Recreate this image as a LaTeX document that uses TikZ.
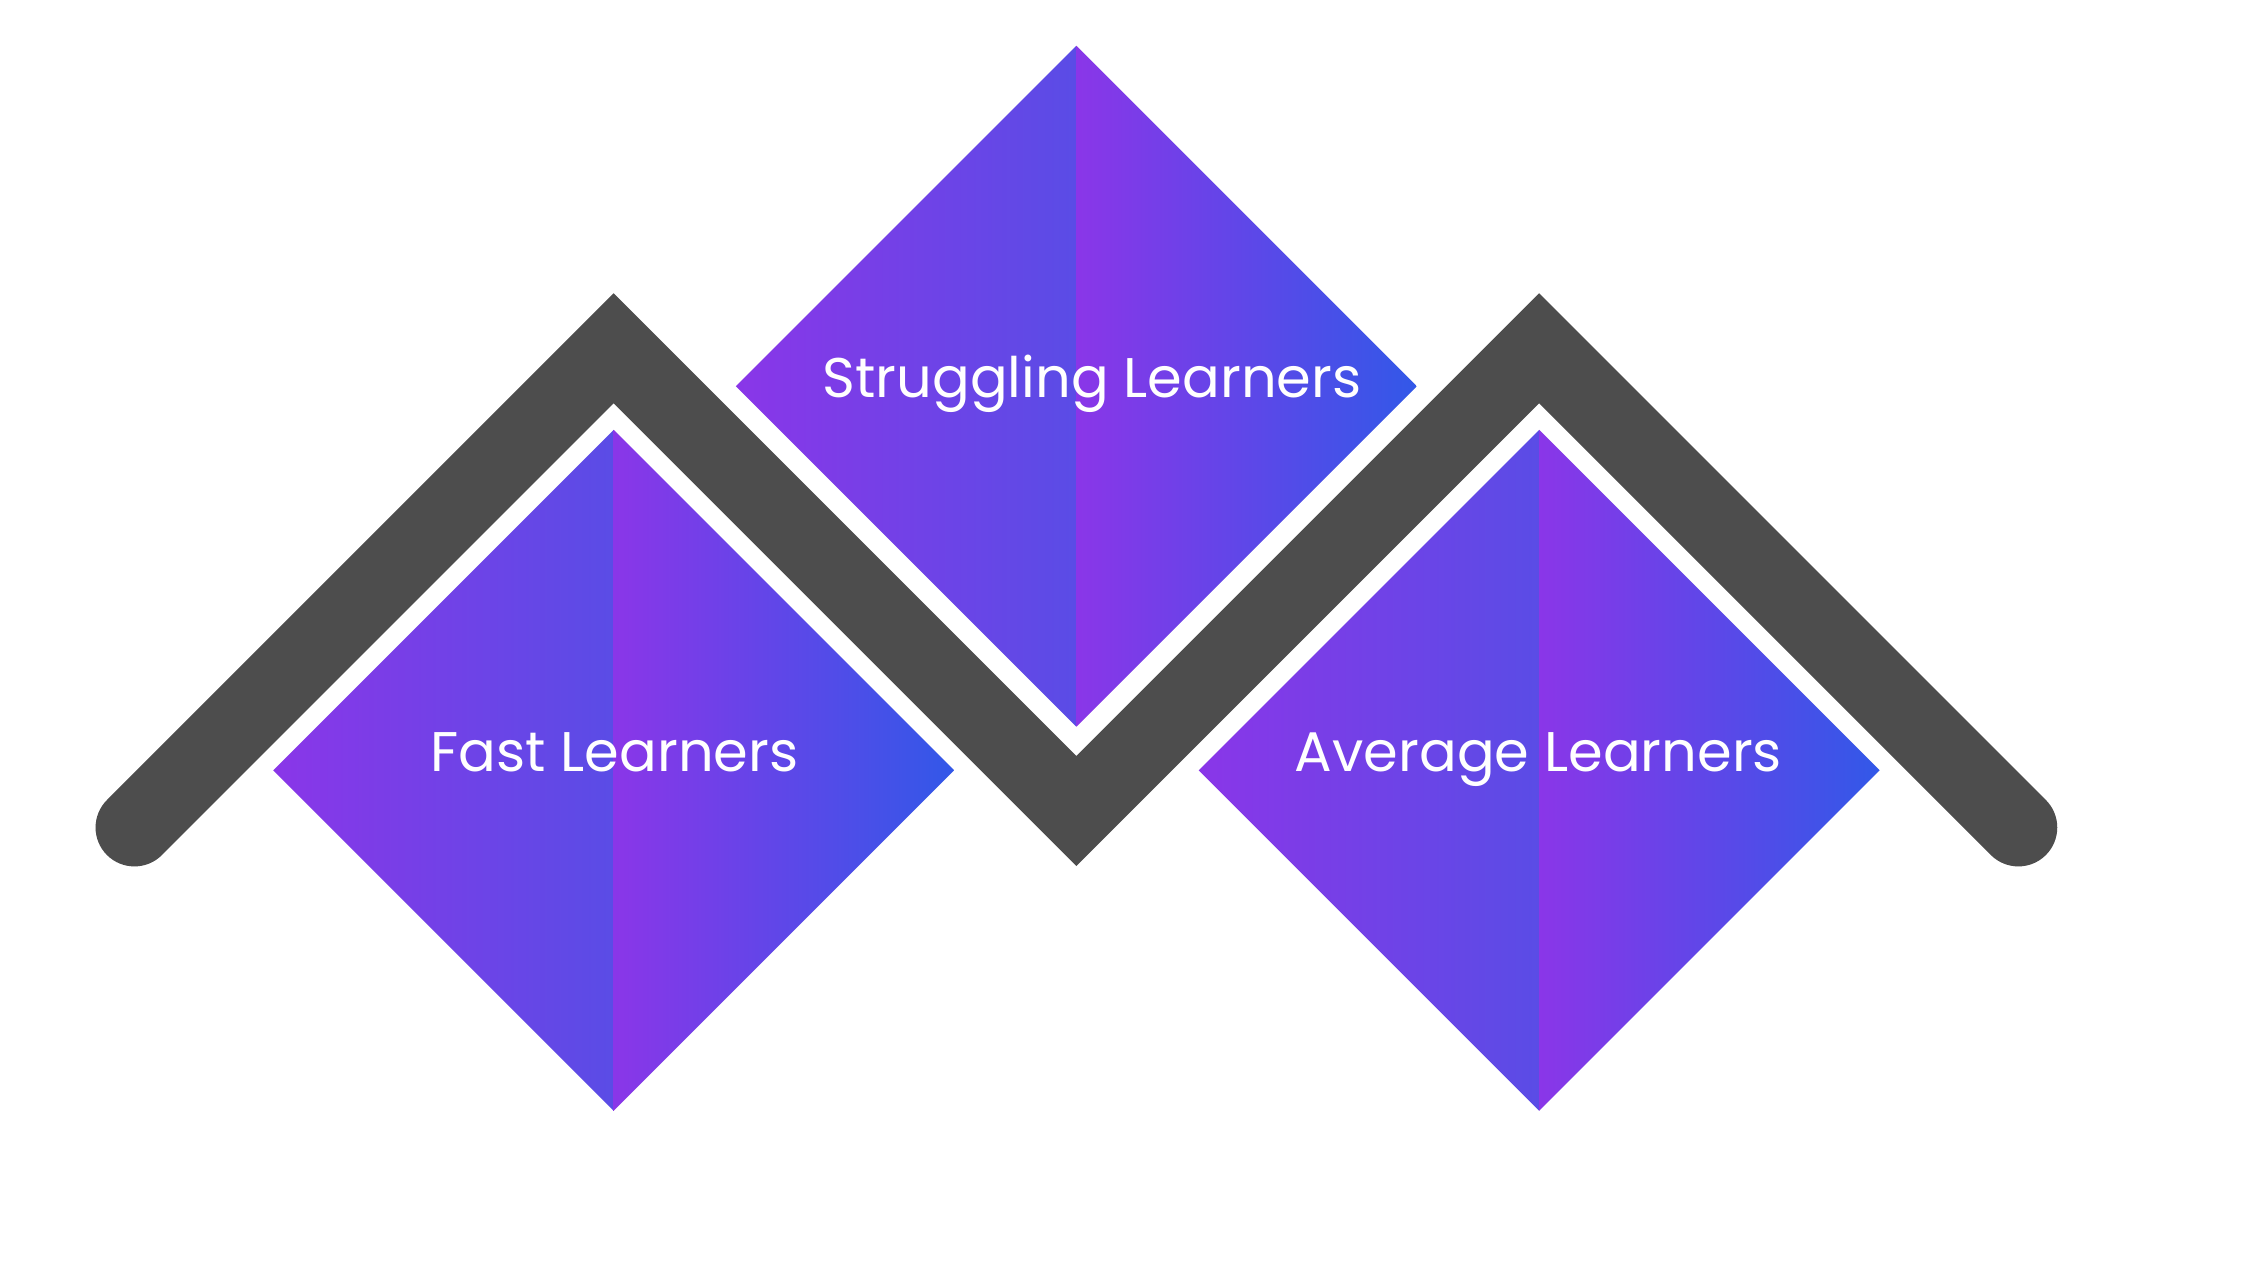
\documentclass[tikz,border=0pt]{standalone}
\usepackage{fontspec}
\setmainfont{Poppins}
\usetikzlibrary{calc}
\definecolor{lpurple}{RGB}{138,54,232}
\definecolor{midblue}{RGB}{90,76,230}
\definecolor{rblue}{RGB}{50,88,232}
\definecolor{bandgray}{RGB}{77,77,77}
\begin{document}
\begin{tikzpicture}[scale=0.9949,
      lhalf/.style={left color=lpurple,right color=midblue},
      rhalf/.style={left color=lpurple,right color=rblue},
      label/.style={text=white,inner sep=0pt,anchor=base,
        font=\fontsize{11.05}{13}\selectfont},
      band/.style={line width=0.541cm,line cap=round,line join=miter}]
  \useasboundingbox[fill=white] (0,0) rectangle (15.68,-8.843);
  % diamond centres
  \coordinate (fast) at (4.29,-5.385);
  \coordinate (strug) at (7.525,-2.70);
  \coordinate (avg) at (10.76,-5.385);
  % soft shadows
  \foreach \d in {fast,strug,avg}{
    \foreach \w in {0,0.05,0.10}
      \fill[black,opacity=0.03,shift={(0.04+\w,-0.06-\w)}]
        ($(\d)+(0,2.38)$) -- ($(\d)+(2.38,0)$)
        -- ($(\d)+(0,-2.38)$) -- cycle;
  }
  % diamonds
  \foreach \d in {fast,strug,avg}{
    \shade[lhalf] (\d) -- ++(0,2.38) -- ++(-2.38,-2.38)
      -- ++(2.38,-2.38) -- cycle;
    \shade[rhalf] (\d) -- ++(0,2.38) -- ++(2.38,-2.38)
      -- ++(-2.38,-2.38) -- cycle;
  }
  % band
  \coordinate (e1) at (0.94,-5.785);
  \coordinate (p1) at (4.29,-2.435);
  \coordinate (v1) at (7.525,-5.67);
  \coordinate (p2) at (10.76,-2.435);
  \coordinate (e2) at (14.11,-5.785);
  \foreach \w in {0.04,0.10,0.16}
    \draw[band,black,opacity=0.025,shift={(0,-2.2*\w)}]
      (e1) -- (p1) -- (v1) -- (p2) -- (e2);
  \draw[band,bandgray] (e1) -- (p1) -- (v1) -- (p2) -- (e2);
  % labels
  \node[label] (fastlbl) at (4.295,-5.39) {Fast Learners};
  \node[label] (struglbl) at (7.635,-2.78) {Struggling Learners};
  \node[label] (avglbl) at (10.755,-5.39) {Average Learners};
\end{tikzpicture}
\end{document}
